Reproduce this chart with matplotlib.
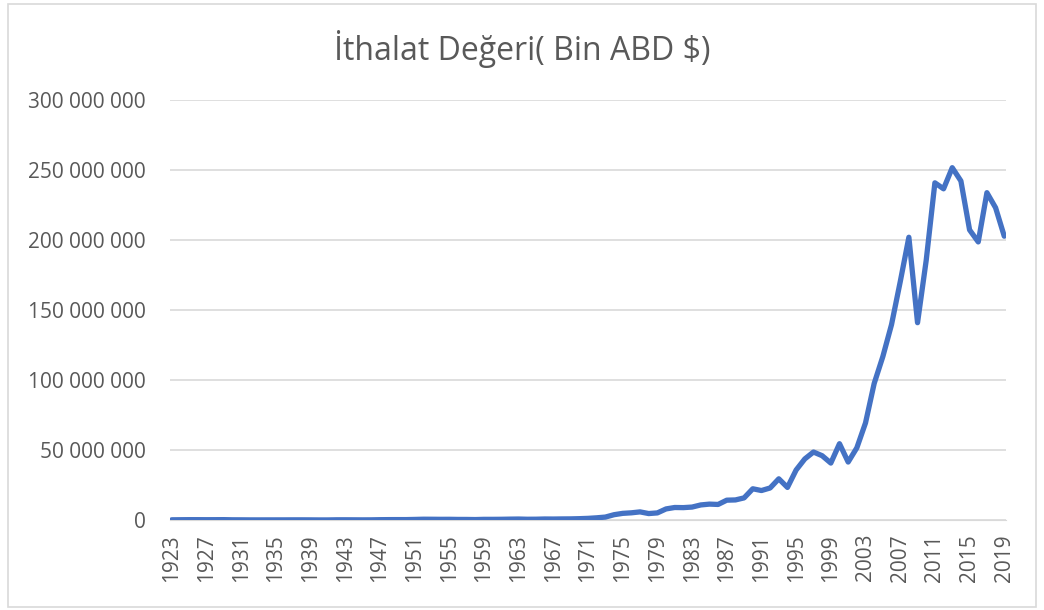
import matplotlib
matplotlib.use("Agg")
import matplotlib.pyplot as plt
from matplotlib.patches import Rectangle
from matplotlib.ticker import FuncFormatter, MultipleLocator

years = list(range(1923, 2020))
imports = [
    144789, 193611, 241629, 234669, 211440, 223467, 256296, 147565, 126253, 85970,
    74697, 86872, 88808, 92512, 114379, 118921, 92506, 50035, 55349, 147713,
    154573, 126232, 97018, 118909, 223931, 275053, 290168, 285654, 402086, 555920,
    532534, 478359, 497637, 407340, 397125, 315098, 469967, 468186, 509664, 619418,
    687616, 537224, 571953, 718269, 684668, 763659, 801236, 947604, 1170840, 1562606,
    2086216, 3777501, 4738558, 5128657, 5796278, 4599025, 5069431, 7909364, 8933374, 8842665,
    9235002, 10756923, 11343375, 11104771, 14157815, 14335399, 15792143, 22302126, 21047014, 22871055,
    29428370, 23270019, 35709011, 43626642, 48558721, 45921392, 40671272, 54502821, 41399083, 51553797,
    69339692, 97539766, 116774151, 139576174, 170062715, 201963574, 140928421, 185544332, 240841676, 236545141,
    251661250, 242177117, 207234359, 198618235, 233799651, 223047094, 202704604,
]
title = "İthalat Değeri( Bin ABD $)"
tick_years = list(range(1923, 2020, 4))

plt.rcParams['font.family'] = ['Open Sans', 'DejaVu Sans']
txt = '#595959'
W, H = 1044, 610
fig = plt.figure(figsize=(W / 100, H / 100), dpi=100)
fig.patches.append(Rectangle((8 / W, 3 / H), 1028 / W, 603 / H, transform=fig.transFigure,
                             fill=False, edgecolor='#d9d9d9', linewidth=1.2))
ax = fig.add_axes([170 / W, 1 - 520 / H, 836 / W, 420 / H])
ax.plot(years, imports, color='#4472C4', linewidth=3.8, solid_capstyle='round', solid_joinstyle='round', zorder=3)
ax.set_xlim(1922.8, 2019.2)
ax.set_ylim(0, 300000000)
ax.yaxis.set_major_locator(MultipleLocator(50000000))
ax.yaxis.set_major_formatter(FuncFormatter(lambda v, p: f"{int(v):,}".replace(",", " ")))
ax.set_xticks(tick_years)
ax.set_xticklabels([str(y) for y in tick_years], rotation=90)
ax.grid(axis='y', color='#d9d9d9', linewidth=1.2)
ax.set_axisbelow(True)
for s in ['top', 'right', 'left']:
    ax.spines[s].set_visible(False)
ax.spines['bottom'].set_color('#d9d9d9')
ax.tick_params(axis='y', length=0, pad=17.5, labelsize=15, labelcolor=txt)
ax.tick_params(axis='x', length=0, pad=10, labelsize=15, labelcolor=txt)
fig.text(0.5, 1 - 60 / H, title, ha='center', va='baseline', fontsize=23, color=txt)
fig.savefig('out.png', dpi=100)
